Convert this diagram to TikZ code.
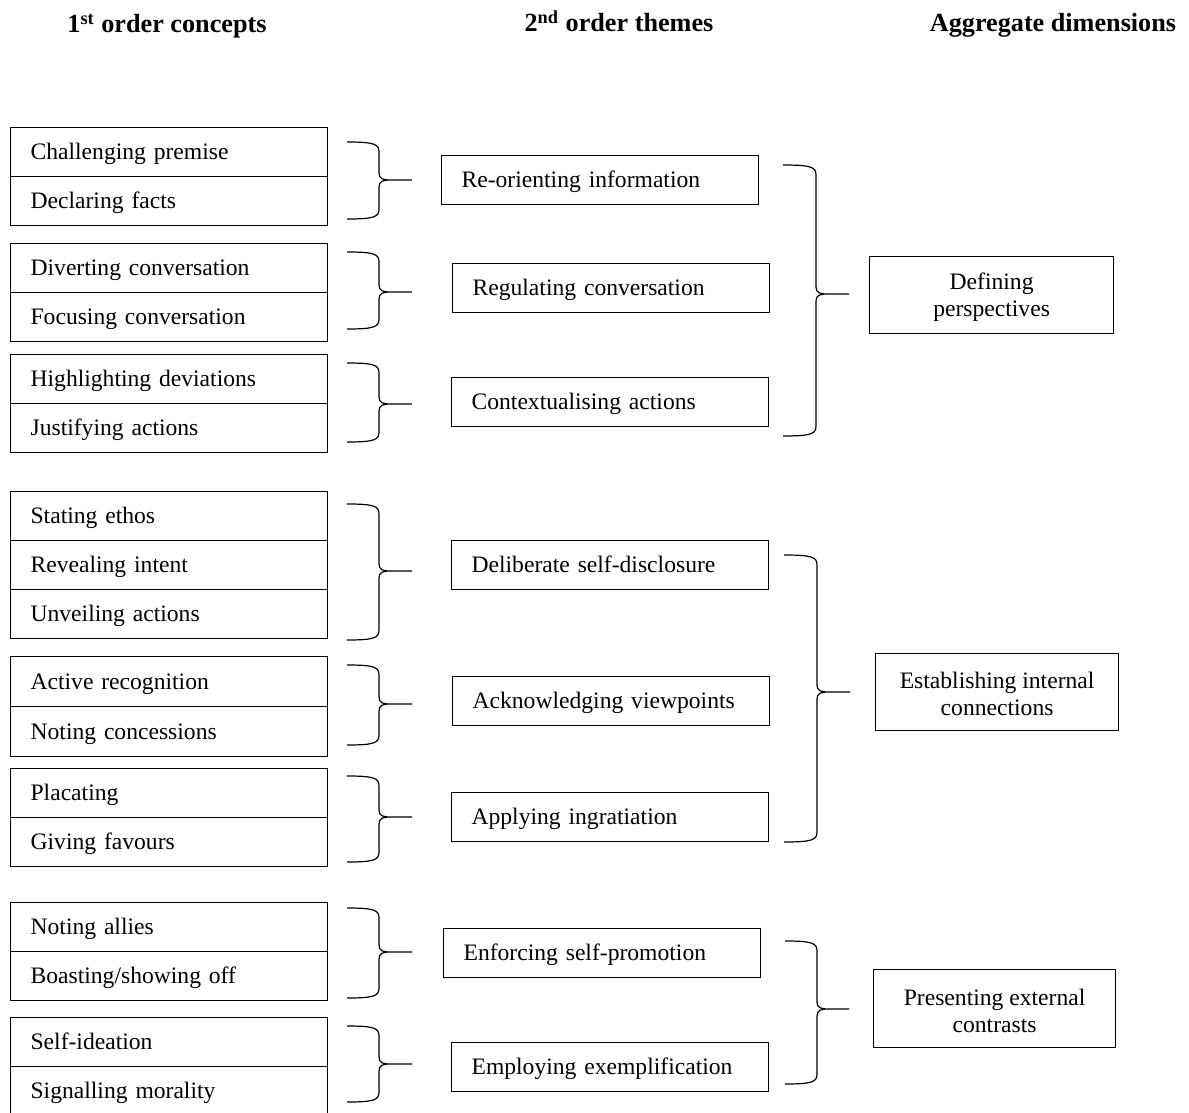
\documentclass[tikz,border=0pt]{standalone}
\usepackage{fontspec}
\setmainfont{Liberation Serif}
\begin{document}
\begin{tikzpicture}[x=0.5pt,y=-0.5pt,
  every node/.style={inner sep=0pt},
  cell/.style={draw, line width=0.6pt, anchor=north west, minimum height=24.5pt,
    text width=138.5pt, inner xsep=10pt, inner ysep=0pt, align=left,
    text height=10pt, text depth=2.5pt,
    font=\fontsize{11.8}{14}\selectfont},
  cellb/.style={cell, minimum height=25pt},
  agg/.style={draw, line width=0.6pt, anchor=north west, align=center,
    font=\fontsize{11.8}{13.6}\selectfont},
  head/.style={anchor=base, font=\fontsize{13.1}{16}\selectfont\bfseries},
  brline/.style={draw, line width=0.6pt}
]
\useasboundingbox (0,0) rectangle (1189,1113);

\newcommand\rbr[6]{% L V T A M B
  \draw[brline] (#1,#4) .. controls (#2-5,#4) and (#2,#4+2) .. (#2,#4+10)
    -- (#2,#5-7) .. controls (#2,#5-1) and (#2+4,#5) .. (#2+12,#5) -- (#3,#5)
    (#2+12,#5) .. controls (#2+4,#5) and (#2,#5+1) .. (#2,#5+7)
    -- (#2,#6-10) .. controls (#2,#6-2) and (#2-5,#6) .. (#1,#6);}
\newcommand\upstrut{\rule{0pt}{10.4pt}}

% headers
\node[head] (h1) at (167,33) {1\textsuperscript{st} order concepts};
\node[head] (h2) at (619,32) {2\textsuperscript{nd} order themes};
\node[head] (h3) at (1053,32) {Aggregate dimensions};

% first order concepts
\node[cell] (c1a) at (10,127) {Challenging premise};
\node[cell] (c1b) at (10,176) {Declaring facts};
\node[cell] (c2a) at (10,243) {Diverting conversation};
\node[cell] (c2b) at (10,292) {Focusing conversation};
\node[cell] (c3a) at (10,354) {Highlighting deviations};
\node[cell] (c3b) at (10,403) {Justifying actions};
\node[cell] (c4a) at (10,491) {Stating ethos};
\node[cell] (c4b) at (10,540) {Revealing intent};
\node[cell] (c4c) at (10,589) {Unveiling actions};
\node[cellb] (c5a) at (10,656) {Active recognition};
\node[cellb] (c5b) at (10,706) {Noting concessions};
\node[cell] (c6a) at (10,768) {Placating};
\node[cell] (c6b) at (10,817) {Giving favours};
\node[cell] (c7a) at (10,902) {Noting allies};
\node[cell] (c7b) at (10,951) {Boasting/showing off};
\node[cell] (c8a) at (10,1017) {Self-ideation};
\node[cell] (c8b) at (10,1066) {Signalling morality};

% second order themes
\node[cell] (t1) at (441,155) {Re-orienting information};
\node[cell] (t2) at (452,263) {Regulating conversation};
\node[cell] (t3) at (451,377) {Contextualising actions};
\node[cell] (t4) at (451,540) {Deliberate self-disclosure};
\node[cell] (t5) at (452,676) {Acknowledging viewpoints};
\node[cell] (t6) at (451,792) {Applying ingratiation};
\node[cell] (t7) at (443,928) {Enforcing self-promotion};
\node[cell] (t8) at (451,1042) {Employing exemplification};

% aggregate dimensions
\node[agg, minimum width=122pt, minimum height=38.5pt] (a1) at (869,256) {\upstrut Defining\\perspectives};
\node[agg, minimum width=121.5pt, minimum height=38.5pt] (a2) at (875,653) {\upstrut Establishing internal\\connections};
\node[agg, minimum width=121pt, minimum height=39pt] (a3) at (873,969) {\upstrut Presenting external\\contrasts};

% braces: first order -> themes
\rbr{347}{379}{412}{142}{180}{219}
\rbr{347}{379}{412}{252}{292}{329}
\rbr{347}{379}{412}{363}{404}{442}
\rbr{347}{379}{412}{504}{571}{640}
\rbr{347}{379}{412}{665}{704}{745}
\rbr{347}{379}{412}{776}{817}{862}
\rbr{347}{379}{412}{908}{952}{998}
\rbr{347}{379}{412}{1026}{1064}{1102}

% braces: themes -> aggregate
\rbr{783}{816}{849}{165}{294}{436}
\rbr{784}{817}{850}{555}{692}{842}
\rbr{785}{817}{849}{941}{1009}{1084}
\end{tikzpicture}
\end{document}
